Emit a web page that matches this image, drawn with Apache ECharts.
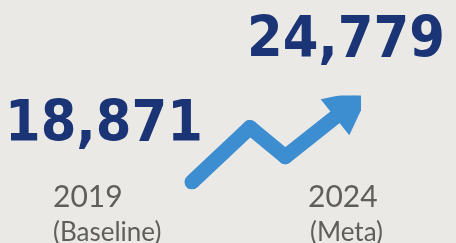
<!DOCTYPE html>
<html lang="en">
<head>
    <meta charset="UTF-8">
    <title>18,871 → 24,779</title>
    <script src="https://cdn.jsdelivr.net/npm/echarts@6/dist/echarts.min.js"></script>
    <style>
        html, body { margin: 0; padding: 0; background: #eae9e5; }
    </style>
</head>
<body>
<div id="box" style="width: 456px;height: 243px;"></div>
<script>
    // data
    var years = ['2019', '2024'];
    var notes = ['(Baseline)', '(Meta)'];
    var values = [18871, 24779];
    // zigzag trend arrow (relative shape, 0..1 both ways)
    var trendX = [0, 0.36, 0.58, 1];
    var trendY = [0, 0.69, 0.32, 1];

    var navy = '#1b3476';
    var blue = '#3d8dd1';
    var grey = '#5e5e5c';

    var segs = [];
    for (var i = 0; i < trendX.length - 1; i++) {
        var item = {coords: [[trendX[i], trendY[i]], [trendX[i + 1], trendY[i + 1]]]};
        if (i === trendX.length - 2) {
            item.symbol = ['none', 'triangle'];
            item.symbolSize = [0, 46];
        }
        segs.push(item);
    }

    function fmt(v) {
        return v.toLocaleString('en-US');
    }

    var bigFont = 'bold 57px "DejaVu Sans Condensed", "DejaVu Sans"';
    var myChart = echarts.init(document.getElementById('box'));
    var option = {
        backgroundColor: '#eae9e5',
        animation: false,
        grid: {left: 192, right: 103, top: 103, bottom: 61},
        xAxis: {type: 'value', min: 0, max: 1, show: false},
        yAxis: {type: 'value', min: 0, max: 1, show: false},
        graphic: [
            {type: 'text', x: 5, y: 126, style: {text: fmt(values[0]), font: bigFont, fill: navy, verticalAlign: 'middle'}},
            {type: 'text', x: 247, y: 42, style: {text: fmt(values[1]), font: bigFont, fill: navy, verticalAlign: 'middle'}},
            {type: 'text', x: 53, y: 197, style: {text: years[0], font: '30px Lato', fill: grey, verticalAlign: 'middle'}},
            {type: 'text', x: 53, y: 233, style: {text: notes[0], font: '26px Lato', fill: grey, verticalAlign: 'middle'}},
            {type: 'text', x: 308, y: 197, style: {text: years[1], font: '30px Lato', fill: grey, verticalAlign: 'middle'}},
            {type: 'text', x: 310, y: 233, style: {text: notes[1], font: '26px Lato', fill: grey, verticalAlign: 'middle'}}
        ],
        series: [{
            type: 'lines',
            coordinateSystem: 'cartesian2d',
            symbol: 'none',
            symbolSize: [0, 46],
            lineStyle: {color: blue, width: 15, opacity: 1, cap: 'round', join: 'round'},
            data: segs
        }]
    };
    myChart.setOption(option);
</script>
</body>
</html>
